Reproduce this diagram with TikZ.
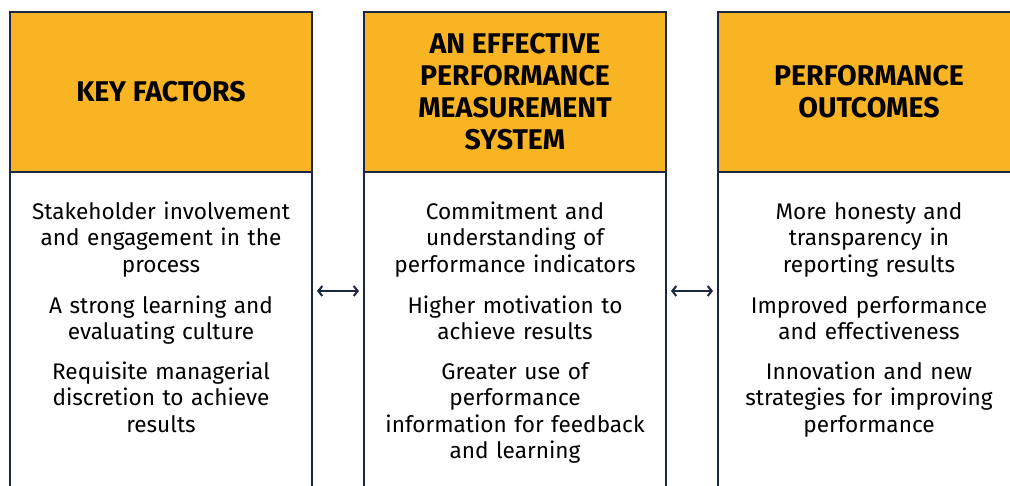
\documentclass[tikz,border=0pt]{standalone}
\usepackage{fontspec}
\setmainfont{Fira Sans}
\usetikzlibrary{arrows.meta,positioning}
\definecolor{navy}{RGB}{29,39,66}
\definecolor{amber}{RGB}{249,180,35}

\begin{document}
\begin{tikzpicture}[x=1pt,y=-1pt,
    head/.style={draw=navy,fill=amber,line width=2pt,minimum width=302pt,minimum height=160pt,
      align=center,font=\bfseries\fontsize{28.5}{32}\selectfont},
    bodybox/.style={draw=navy,fill=white,line width=2pt,minimum width=302pt,minimum height=340pt},
    item/.style={anchor=base,text width=296pt,align=center,inner sep=0pt,
      font=\fontsize{22.6}{26.5}\selectfont},
    twoway/.style={navy,line width=2pt,shorten <=4pt,shorten >=4pt,
      {Straight Barb[length=4pt,width=10pt]}-{Straight Barb[length=4pt,width=10pt]}}]

        \clip (0,0) rectangle (1010,485);
        \fill[white] (0,0) rectangle (1010,485);
        \begin{scope}
          \def\step{354}

          \foreach \i/\txt in {1/{KEY FACTORS},
                               2/{AN EFFECTIVE\\PERFORMANCE\\MEASUREMENT\\SYSTEM},
                               3/{PERFORMANCE\\OUTCOMES}} {
            \node[bodybox] (b\i) at (161+\step*\i-\step, 342) {};
            \node[head] (h\i) at (161+\step*\i-\step, 92) {\txt};
          }
        \end{scope}

        % key factors
        \node[item] (k1) at (161,219) {Stakeholder involvement\\and engagement in the\\process};
        \node[item] (k2) at (161,313) {A strong learning and\\evaluating culture};
        \node[item] (k3) at (161,379) {Requisite managerial\\discretion to achieve\\results};

        % measurement system
        \node[item] (m1) at (515,219) {Commitment and\\understanding of\\performance indicators};
        \node[item] (m2) at (515,313) {Higher motivation to\\achieve results};
        \node[item] (m3) at (515,379) {Greater use of\\performance\\information for feedback\\and learning};

        % outcomes
        \node[item] (o1) at (869,219) {More honesty and\\transparency in\\reporting results};
        \node[item] (o2) at (869,313) {Improved performance\\and effectiveness};
        \node[item] (o3) at (869,379) {Innovation and new\\strategies for improving\\performance};

        \coordinate (arrowrow) at (0,291);
        \draw[twoway] (b1.east |- arrowrow) -- (b2.west |- arrowrow);
        \draw[twoway] (b2.east |- arrowrow) -- (b3.west |- arrowrow);
      \end{tikzpicture}
\end{document}
